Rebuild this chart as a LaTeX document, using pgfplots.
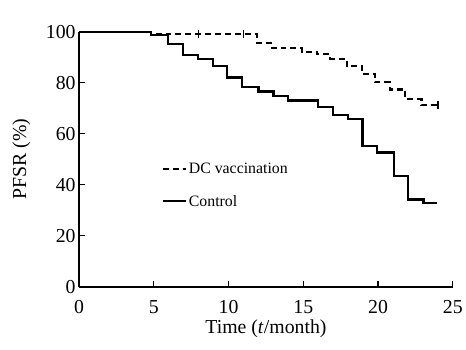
\documentclass[border=0pt]{standalone}
\usepackage{pgfplots}
\pgfplotsset{compat=1.18}
\usetikzlibrary{calc}
\usepackage{fontspec}
\setmainfont{Liberation Serif}
\begin{document}
\begin{tikzpicture}
\begin{axis}[
  scale only axis,
  width=378pt, height=258pt,
  xmin=0, xmax=25, ymin=0, ymax=100,
  axis x line=bottom, axis y line=left,
  axis line style={-, line width=1.6pt},
  xtick={0,5,...,25}, ytick={0,20,...,100},
  tick style={line width=1.3pt, black},
  major tick length=6pt,
  tick align=inside,
  tick label style={font=\fontsize{20}{23}\selectfont},
  xticklabel style={yshift=-10pt},
  /pgf/number format/assume math mode=true,
  xlabel={Time (\textit{t}/month)},
  ylabel={PFSR (\%)},
  label style={font=\fontsize{20}{23}\selectfont},
  xlabel style={yshift=0pt},
  ylabel style={yshift=9pt},
  legend style={draw=none, fill=none, at={(axis cs:5.35,50)}, anchor=north west,
    font=\fontsize{16}{18}\selectfont, row sep=16pt},
  legend cell align=left,
  legend image code/.code={\draw[#1] (0cm,0cm) -- (0.8cm,0cm);},
  clip=false,
]
\addplot[const plot, black, line width=2.2pt, dash pattern=on 6pt off 4pt] coordinates {
(0,100) (4.83,99) (11.9,95.6) (12.8,93.7) (14.9,92.1) (15.9,91.1) (16.8,89.4)
(17.9,86.6) (18.9,83.3) (19.8,80.1) (20.8,77.3) (21.8,73.6) (22.9,71.3) (24.0,71.3)};
\addlegendentry{DC vaccination}
\addplot[const plot, black, line width=2.2pt] coordinates {
(0,100) (4.83,98.6) (5.95,95) (6.94,91) (7.94,89.4) (8.93,86.6) (9.92,82)
(10.9,78.2) (12.0,76.5) (13.0,74.7) (14.0,73) (16.0,70.4) (17.0,67.4) (18.0,65.9)
(18.96,55.2) (19.95,52.6) (21.05,43.3) (22.0,34.2) (23.04,32.9) (23.96,32.9)};
\addlegendentry{Control}
\addplot[only marks, mark=|, mark size=4pt, line width=1.3pt, black, forget plot] coordinates {
(8.0,99) (11.0,99) (24.0,71.3)};
\end{axis}
\path[use as bounding box] ($(current axis.origin)+(-80pt,-64pt)$) rectangle ($(current axis.origin)+(386pt,290pt)$);
\end{tikzpicture}
\end{document}
